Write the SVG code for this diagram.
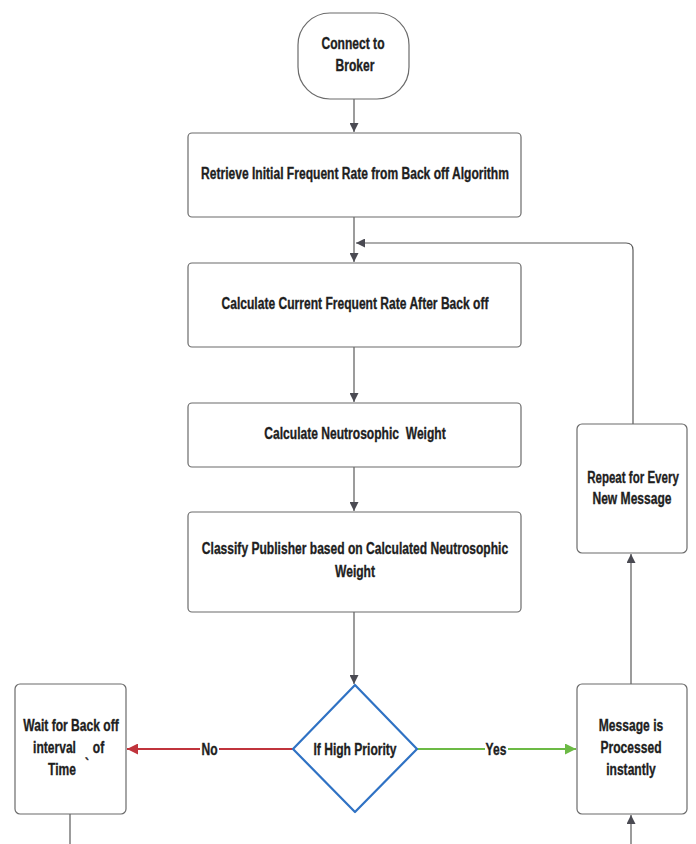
<svg xmlns="http://www.w3.org/2000/svg" width="696" height="844" viewBox="0 0 696 844">
<style>
.box{fill:#fff;stroke:#6b6b6b;stroke-width:1.2}
.t{font-family:"Liberation Sans",Arial,sans-serif;font-weight:bold;font-size:17px;fill:#1e1e1e;stroke:#1e1e1e;stroke-width:0.35;text-anchor:middle}
.c{fill:none;stroke:#5a5a5a;stroke-width:1.2}
</style>
<defs>
<marker id="ah" viewBox="0 0 10 10" refX="10" refY="5" markerWidth="9" markerHeight="9" markerUnits="userSpaceOnUse" orient="auto"><path d="M0,0 L10,5 L0,10 z" fill="#4a4a52"/></marker>
<marker id="ahr" viewBox="0 0 10 10" refX="10" refY="5" markerWidth="11" markerHeight="11" markerUnits="userSpaceOnUse" orient="auto"><path d="M0,0 L10,5 L0,10 z" fill="#c0343c"/></marker>
<marker id="ahg" viewBox="0 0 10 10" refX="10" refY="5" markerWidth="11" markerHeight="11" markerUnits="userSpaceOnUse" orient="auto"><path d="M0,0 L10,5 L0,10 z" fill="#6cba45"/></marker>
</defs>
<rect width="696" height="844" fill="#fff"/>
<g id="connectors">
<line class="c" x1="354" y1="99" x2="354" y2="132" marker-end="url(#ah)"/>
<line class="c" x1="354" y1="217" x2="354" y2="262" marker-end="url(#ah)"/>
<path class="c" d="M633,424 V250 Q633,243 626,243 H356" marker-end="url(#ah)"/>
<line class="c" x1="354" y1="347" x2="354" y2="402" marker-end="url(#ah)"/>
<line class="c" x1="354" y1="467" x2="354" y2="511" marker-end="url(#ah)"/>
<line class="c" x1="354" y1="612" x2="354" y2="684" marker-end="url(#ah)"/>
<line x1="293" y1="749" x2="127" y2="749" stroke="#c0343c" stroke-width="2.2" marker-end="url(#ahr)"/>
<line x1="417" y1="749" x2="576" y2="749" stroke="#6cba45" stroke-width="2.2" marker-end="url(#ahg)"/>
<line class="c" x1="631" y1="684" x2="631" y2="554" marker-end="url(#ah)"/>
<line class="c" x1="631" y1="844" x2="631" y2="815" marker-end="url(#ah)"/>
<line class="c" x1="70" y1="814" x2="70" y2="844"/>
<rect x="200" y="740" width="19" height="18" fill="#fff"/>
<text class="t" transform="translate(209.5,755) scale(0.71,1)">No</text>
<rect x="485" y="740" width="23" height="18" fill="#fff"/>
<text class="t" transform="translate(496,755) scale(0.71,1)">Yes</text>
</g>
<g id="start">
<rect class="box" x="298" y="13" width="111" height="86" rx="32" ry="32"/>
<text class="t" transform="translate(353,49) scale(0.71,1)">Connect to</text>
<text class="t" transform="translate(355,71) scale(0.71,1)">Broker</text>
</g>
<g id="retrieve">
<rect class="box" x="188" y="133" width="333" height="84" rx="4"/>
<text class="t" transform="translate(355,179) scale(0.71,1)">Retrieve Initial Frequent Rate from Back off Algorithm</text>
</g>
<g id="calc-current">
<rect class="box" x="188" y="263" width="333" height="84" rx="4"/>
<text class="t" transform="translate(355,309) scale(0.71,1)">Calculate Current Frequent Rate After Back off</text>
</g>
<g id="calc-weight">
<rect class="box" x="188" y="403" width="333" height="64" rx="4"/>
<text class="t" transform="translate(355,439) scale(0.71,1)" xml:space="preserve">Calculate Neutrosophic  Weight</text>
</g>
<g id="classify">
<rect class="box" x="188" y="512" width="333" height="100" rx="4"/>
<text class="t" transform="translate(355,554) scale(0.71,1)">Classify Publisher based on Calculated Neutrosophic</text>
<text class="t" transform="translate(355,577) scale(0.71,1)">Weight</text>
</g>
<g id="decision">
<path d="M355,685 L417,749 L355,812 L293,749 Z" fill="#fff" stroke="#2f72c4" stroke-width="2.2" stroke-linejoin="round"/>
<text class="t" transform="translate(355,755) scale(0.71,1)">If High Priority</text>
</g>
<g id="wait">
<rect class="box" x="15" y="684" width="111" height="130" rx="5"/>
<text class="t" transform="translate(71,731) scale(0.71,1)">Wait for Back off</text>
<text class="t" transform="translate(54.5,753) scale(0.71,1)">interval</text>
<text class="t" transform="translate(98.5,753) scale(0.71,1)">of</text>
<text class="t" transform="translate(62,775) scale(0.71,1)">Time</text>
<text class="t" transform="translate(87,770) scale(0.71,1)">`</text>
</g>
<g id="processed">
<rect class="box" x="577" y="684" width="110" height="130" rx="5"/>
<text class="t" transform="translate(631,731) scale(0.71,1)">Message is</text>
<text class="t" transform="translate(631,753) scale(0.71,1)">Processed</text>
<text class="t" transform="translate(631,775) scale(0.71,1)">instantly</text>
</g>
<g id="repeat">
<rect class="box" x="577" y="424" width="110" height="129" rx="5"/>
<text class="t" transform="translate(633,483) scale(0.68,1)">Repeat for Every</text>
<text class="t" transform="translate(632,504) scale(0.71,1)">New Message</text>
</g>
</svg>
